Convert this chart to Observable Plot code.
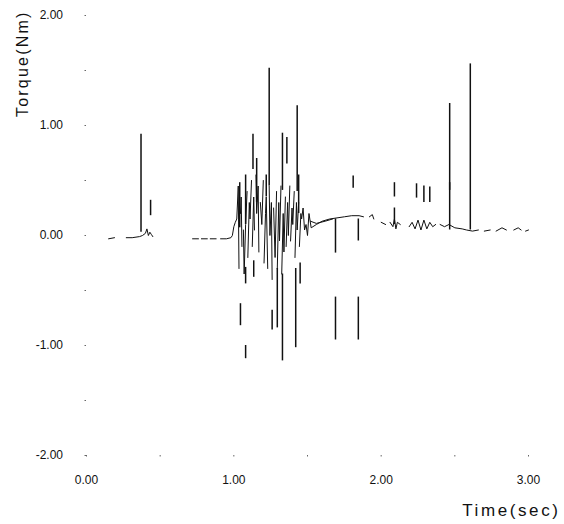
<!DOCTYPE html>
<html>
<head>
<meta charset="utf-8">
<script src="https://cdn.jsdelivr.net/npm/d3@7"></script>
<script src="https://cdn.jsdelivr.net/npm/@observablehq/plot@0.6"></script>
<style>
  html, body { margin: 0; padding: 0; background: #fff; }
  #chart svg { display: block; }
</style>
</head>
<body>
<div id="chart"></div>
<script>
// ---- Data ----
// Baseline torque trace; null marks a break in the trace
const time = [
  0.15, 0.19, null, 0.27, 0.31, 0.36, 0.38, 0.40, 0.41, 0.42, 0.43, 0.44, 0.45, null,
  0.72, 0.76, null, 0.78, 0.82, null, 0.84, 0.88, null, 0.91, 0.95, 0.98, 0.99, 1.00, 1.01,
  1.02, 1.03, 1.035, null, 1.045, 1.05, 1.055, null, 1.065, 1.07, 1.08, 1.09, null, 1.095, 1.105, 1.11,
  1.12, null, 1.125, 1.135, 1.14, null, 1.15, 1.155, 1.165, 1.17, null, 1.18, 1.19, 1.20, null, 1.205, 1.215,
  1.22, 1.23, null, 1.24, 1.245, 1.255, 1.26, null, 1.27, 1.28, 1.29, null, 1.295, 1.305, 1.31, 1.32, null,
  1.325, 1.335, 1.34, 1.35, null, 1.355, 1.365, 1.37, 1.38, null, 1.385, 1.395, 1.40, 1.41, null, 1.415,
  1.425, 1.43, 1.44, null, 1.445, 1.455, 1.46, 1.47, 1.48, 1.49, 1.50, 1.51, 1.525, 1.56,
  1.60, 1.65, 1.70, 1.75, 1.80, 1.85, 1.88, null,
  1.52, 1.56, 1.62, 1.67, null,
  1.92, 1.94, 1.95, null, 2.00, 2.03, null, 2.06, 2.08, 2.09, 2.10, 2.11, 2.13, null,
  2.19, 2.21, 2.23, 2.25, 2.27, 2.29, 2.31, 2.33, 2.35, 2.37, null,
  2.40, 2.43, 2.46, 2.50, 2.55, 2.58, 2.62, 2.66, null, 2.70, 2.74, null,
  2.78, 2.82, 2.85, null, 2.90, 2.93, 2.95, null, 2.98, 3.00
];
const torque = [
  -0.03, -0.02, null, -0.02, -0.02, -0.01, 0.00, 0.02, 0.06, 0.00, 0.03, 0.01, -0.01, null,
  -0.03, -0.03, null, -0.03, -0.03, null, -0.03, -0.03, null, -0.03, -0.03, -0.02, 0.00, 0.08, 0.12,
  0.15, 0.45, -0.30, null, 0.20, 0.35, -0.10, null, 0.05, -0.35, 0.10, 0.40, null, -0.20, 0.30, 0.15,
  0.50, null, -0.10, 0.35, 0.05, null, 0.55, 0.20, 0.45, -0.15, null, 0.30, 0.10, 0.50, null, -0.25, 0.20,
  0.35, -0.30, null, 0.45, 0.00, 0.30, -0.40, null, 0.25, -0.20, 0.40, null, -0.30, 0.30, -0.05, 0.45, null,
  -0.35, 0.20, -0.15, 0.35, null, -0.10, 0.30, 0.00, 0.45, null, -0.05, 0.25, 0.10, 0.40, null, -0.20,
  0.30, 0.05, 0.30, null, -0.10, 0.20, 0.15, 0.25, 0.05, 0.10, 0.00, 0.20, 0.07, 0.10,
  0.13, 0.15, 0.16, 0.17, 0.18, 0.18, 0.17, null,
  0.13, 0.11, 0.13, 0.15, null,
  0.17, 0.19, 0.15, null, 0.12, 0.10, null, 0.12, 0.08, 0.15, 0.06, 0.12, 0.10, null,
  0.08, 0.12, 0.06, 0.14, 0.05, 0.14, 0.06, 0.12, 0.08, 0.10, null,
  0.10, 0.08, 0.10, 0.07, 0.06, 0.05, 0.04, 0.05, null, 0.04, 0.05, null,
  0.04, 0.07, 0.05, null, 0.05, 0.07, 0.05, null, 0.04, 0.05
];

// Sharp vertical torque spikes: time, lower value, upper value
const spikeT  = [0.37, 0.435,
                 1.04, 1.08, 1.13, 1.155, 1.22, 1.24, 1.33, 1.36, 1.43, 1.44,
                 1.045, 1.08, 1.08, 1.135, 1.26, 1.295, 1.33, 1.42, 1.45,
                 1.69, 1.69, 1.81, 1.845, 1.845,
                 2.09, 2.09, 2.24, 2.29, 2.33, 2.465, 2.465, 2.605];
const spikeLo = [0.03, 0.18,
                 0.07, 0.10, 0.60, 0.30, 0.35, 0.45, 0.41, 0.65, 0.40, 0.20,
                 -0.82, -1.12, -0.44, -0.38, -0.86, -0.84, -1.14, -1.02, -0.44,
                 -0.16, -0.95, 0.43, -0.05, -0.95,
                 0.10, 0.35, 0.34, 0.30, 0.30, 0.05, 0.41, 0.05];
const spikeHi = [0.92, 0.32,
                 0.48, 0.55, 0.92, 0.70, 0.55, 1.52, 0.93, 0.89, 1.18, 0.55,
                 -0.62, -1.00, -0.29, -0.23, -0.68, -0.30, -0.35, -0.30, -0.25,
                 0.15, -0.56, 0.54, 0.15, -0.56,
                 0.25, 0.48, 0.47, 0.45, 0.44, 1.20, 0.48, 1.56];

// Axis ticks
const xTicks = [0, 0.5, 1, 1.5, 2, 2.5, 3];
const yTicks = [-2, -1.5, -1, -0.5, 0, 0.5, 1, 1.5, 2];
const xLabel = "Time(sec)";
const yLabel = "Torque(Nm)";

// ---- Build ----
const trace = time.map((t, i) => ({t, v: torque[i]}));
const spikes = spikeT.map((t, i) => ({t, lo: spikeLo[i], hi: spikeHi[i]}));
const fmt = d => Number.isInteger(d) ? d.toFixed(2) : "";

const chart = Plot.plot({
  width: 564,
  height: 524,
  marginLeft: 86,
  marginRight: 36,
  marginTop: 15,
  marginBottom: 69,
  style: {fontFamily: "'Liberation Sans', Arial, sans-serif", background: "#fff", color: "#111"},
  x: {domain: [0, 3]},
  y: {domain: [-2, 2]},
  marks: [
    Plot.axisY({ticks: yTicks, tickSize: 1.5, tickPadding: 22, tickFormat: fmt, fontSize: 12, label: null, stroke: "#666"}),
    Plot.axisX({ticks: xTicks, tickSize: 1.5, tickPadding: 18, tickFormat: fmt, fontSize: 12, label: null, stroke: "#666"}),
    Plot.line(trace, {x: "t", y: "v", stroke: "#111", strokeWidth: 1}),
    Plot.ruleX(spikes, {x: "t", y1: "lo", y2: "hi", stroke: "#111", strokeWidth: 1.5}),
    Plot.text([yLabel], {text: d => d, frameAnchor: "top-left", dx: -70, dy: -5, rotate: -90, textAnchor: "end", fontSize: 16, className: "ylab"}),
    Plot.text([xLabel], {text: d => d, frameAnchor: "bottom-right", dx: 32, dy: 60, textAnchor: "end", fontSize: 17, className: "xlab"})
  ]
});
document.getElementById("chart").appendChild(chart);
d3.select(chart).selectAll(".ylab text").style("letter-spacing", "2.2px");
d3.select(chart).selectAll(".xlab text").style("letter-spacing", "2.6px");
</script>
</body>
</html>
